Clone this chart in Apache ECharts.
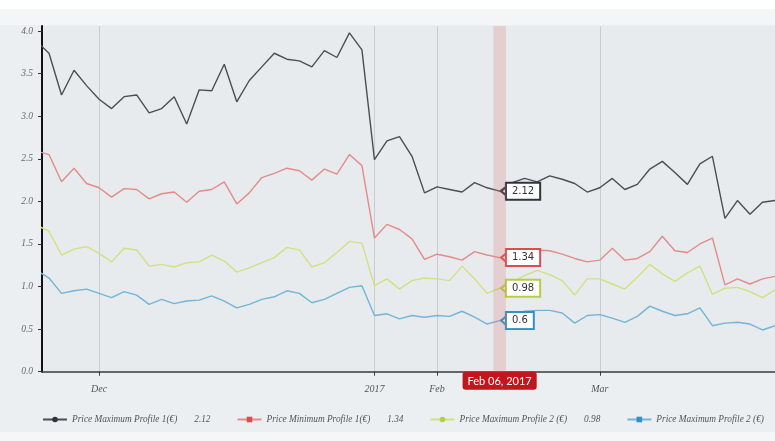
<!DOCTYPE html>
<html>
<head>
<meta charset="utf-8">
<script src="https://cdn.jsdelivr.net/npm/echarts@6/dist/echarts.min.js"></script>
<style>
  html, body { margin: 0; padding: 0; background: #fff; }
  #main {
    position: absolute; left: 0; top: 0; width: 775px; height: 441px;
    background: linear-gradient(#fff 0 9px, #f3f5f6 9px 25px, #eceff1 25px 432px, #f4f6f7 432px);
  }
</style>
</head>
<body>
<div id="main"></div>
<script>
// x = point index (irregular trading dates, drawn evenly spaced)
const maxProfile1 = [3.88, 3.74, 3.25, 3.54, 3.36, 3.20, 3.09, 3.23, 3.25, 3.04,
  3.09, 3.23, 2.91, 3.31, 3.30, 3.61, 3.17, 3.42, 3.58, 3.74,
  3.67, 3.65, 3.58, 3.77, 3.69, 3.98, 3.78, 2.49, 2.71, 2.76,
  2.53, 2.10, 2.17, 2.14, 2.11, 2.22, 2.16, 2.12, 2.22, 2.27,
  2.23, 2.30, 2.26, 2.21, 2.11, 2.16, 2.27, 2.14, 2.20, 2.38,
  2.47, 2.34, 2.20, 2.44, 2.53, 1.80, 2.01, 1.85, 1.99, 2.01];
const minProfile1 = [2.59, 2.55, 2.23, 2.39, 2.21, 2.16, 2.05, 2.15, 2.14, 2.03,
  2.09, 2.11, 1.99, 2.12, 2.14, 2.23, 1.97, 2.10, 2.28, 2.33,
  2.39, 2.36, 2.25, 2.38, 2.32, 2.55, 2.42, 1.57, 1.73, 1.67,
  1.56, 1.32, 1.38, 1.35, 1.31, 1.41, 1.37, 1.34, 1.37, 1.41,
  1.43, 1.42, 1.38, 1.33, 1.29, 1.31, 1.45, 1.31, 1.33, 1.41,
  1.59, 1.42, 1.40, 1.50, 1.57, 1.02, 1.09, 1.03, 1.09, 1.12];
const maxProfile2 = [1.72, 1.65, 1.37, 1.44, 1.47, 1.39, 1.29, 1.45, 1.43, 1.24,
  1.26, 1.23, 1.28, 1.29, 1.37, 1.30, 1.17, 1.22, 1.28, 1.34,
  1.46, 1.43, 1.23, 1.28, 1.40, 1.53, 1.51, 1.01, 1.09, 0.97,
  1.07, 1.10, 1.09, 1.07, 1.24, 1.09, 0.92, 0.98, 1.05, 1.13,
  1.19, 1.14, 1.07, 0.90, 1.09, 1.09, 1.03, 0.97, 1.11, 1.26,
  1.15, 1.06, 1.16, 1.24, 0.91, 0.98, 0.99, 0.94, 0.87, 0.96];
const minProfile2 = [1.19, 1.10, 0.92, 0.95, 0.97, 0.92, 0.87, 0.94, 0.90, 0.79,
  0.85, 0.80, 0.83, 0.84, 0.89, 0.83, 0.75, 0.79, 0.85, 0.88,
  0.95, 0.92, 0.81, 0.85, 0.92, 0.99, 1.01, 0.66, 0.68, 0.62,
  0.66, 0.64, 0.66, 0.65, 0.71, 0.64, 0.56, 0.60, 0.66, 0.71,
  0.72, 0.72, 0.69, 0.57, 0.66, 0.67, 0.63, 0.58, 0.65, 0.77,
  0.71, 0.66, 0.68, 0.75, 0.54, 0.57, 0.58, 0.56, 0.49, 0.54];

const seriesNames = ['Price Maximum Profile 1(€)', 'Price Minimum Profile 1(€)',
  'Price Maximum Profile 2 (€)', 'Price Maximum Profile 2 (€) '];
const legendValues = ['2.12', '1.34', '0.98', ''];

const monthTicks = [5, 27, 32, 45];
const monthLabels = ['Dec', '2017', 'Feb', 'Mar'];
const yTicks = [0, 0.5, 1.0, 1.5, 2.0, 2.5, 3.0, 3.5, 4.0];

const focusIndex = 37;
const focusDate = 'Feb 06, 2017';

const lineColors = ['#4a4f54', '#e58a8a', '#d2e17f', '#73b5d8'];
const markColors = ['#2e363c', '#d94f4f', '#b4cf44', '#3490c2'];
const symbols = ['circle', 'rect', 'circle', 'rect'];

const chart = echarts.init(document.getElementById('main'));

const allData = [maxProfile1, minProfile1, maxProfile2, minProfile2];

const series = allData.map((vals, s) => ({
  name: seriesNames[s],
  type: 'line',
  data: vals.map((v, i) => [i, v]),
  showSymbol: false,
  symbol: symbols[s],
  symbolSize: 7,
  lineStyle: { color: lineColors[s], width: 1.4 },
  itemStyle: { color: markColors[s] },
  markPoint: {
    symbol: 'path://M0,5L6,0L6,10Z',
    symbolSize: [6, 10],
    symbolOffset: [4.5, 0],
    itemStyle: { color: '#fff', borderColor: markColors[s], borderWidth: 2 },
    label: {
      show: true,
      position: 'right',
      distance: -1,
      formatter: '{c}',
      color: '#333',
      fontFamily: 'DejaVu Sans',
      fontSize: 10,
      backgroundColor: '#fff',
      borderColor: markColors[s],
      borderWidth: 2,
      padding: [3, 5, 2, 5]
    },
    data: [{ coord: [focusIndex, vals[focusIndex]], value: vals[focusIndex] }]
  }
}));

chart.setOption({
  animation: false,
  grid: {
    left: 42, right: 0, top: 26, height: 345.7,
    show: true, backgroundColor: '#e8ebed', borderWidth: 0
  },
  legend: {
    left: 42, top: 415, width: 760,
    padding: 0,
    itemWidth: 24, itemHeight: 7, itemGap: 26,
    data: seriesNames,
    formatter: function (name) {
      const v = legendValues[seriesNames.indexOf(name)];
      return v ? '{n|' + name + '}{v|' + v + '}' : '{n|' + name + '}';
    },
    textStyle: {
      fontFamily: 'Liberation Serif', fontStyle: 'italic', fontSize: 9.3, color: '#555',
      rich: {
        n: { fontFamily: 'Liberation Serif', fontStyle: 'italic', fontSize: 9.3, color: '#555' },
        v: { fontFamily: 'Liberation Serif', fontStyle: 'italic', fontSize: 9.3, color: '#555', padding: [0, 0, 0, 17] }
      }
    }
  },
  xAxis: {
    type: 'value',
    min: 0.44, max: 59,
    axisLine: { lineStyle: { color: '#3a3a3a', width: 1.5 } },
    axisTick: { length: 4, lineStyle: { color: '#3a3a3a' }, customValues: monthTicks },
    axisLabel: {
      customValues: monthTicks,
      formatter: v => monthLabels[monthTicks.indexOf(v)] || '',
      margin: 13,
      fontFamily: 'Liberation Serif', fontStyle: 'italic', fontSize: 10, color: '#555'
    },
    splitLine: { show: true, lineStyle: { color: '#c8cdd1', width: 1 } },
    axisPointer: {
      show: true,
      type: 'shadow',
      value: focusIndex,
      status: 'show',
      triggerTooltip: false,
      shadowStyle: { color: 'rgba(220, 120, 120, 0.25)' },
      label: {
        show: true,
        formatter: () => focusDate,
        backgroundColor: '#c3151b',
        color: '#fff',
        fontFamily: 'Lato',
        fontSize: 11,
        padding: [4, 5, 3, 5],
        margin: 0
      }
    }
  },
  yAxis: {
    type: 'value',
    min: 0, max: 4.06,
    axisLine: { show: true, lineStyle: { color: '#111', width: 2 } },
    axisTick: { show: true, length: 4, lineStyle: { color: '#333' }, customValues: yTicks },
    axisLabel: {
      customValues: yTicks,
      formatter: v => v.toFixed(1),
      margin: 9,
      fontFamily: 'Liberation Serif', fontStyle: 'italic', fontSize: 9.5, color: '#666'
    },
    splitLine: { show: false }
  },
  series: series
});
</script>
</body>
</html>
